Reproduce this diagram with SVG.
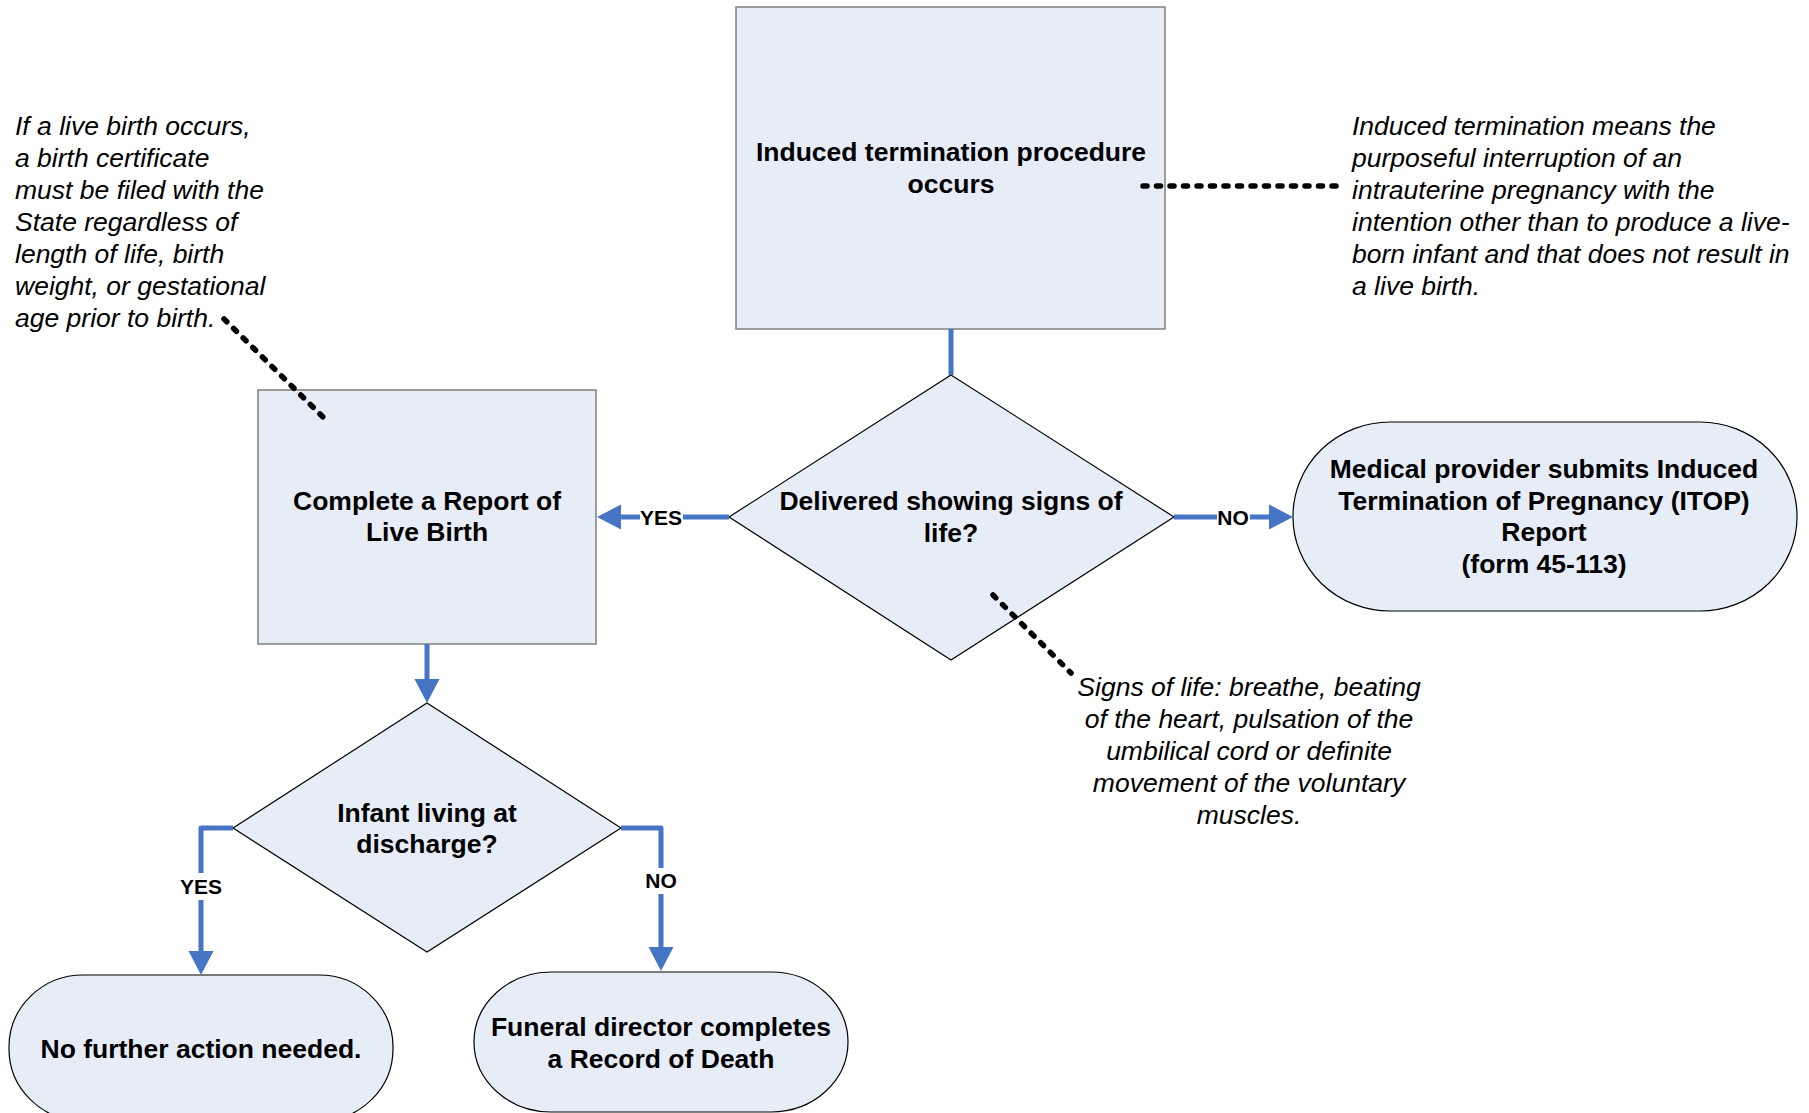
<svg xmlns="http://www.w3.org/2000/svg" width="1809" height="1113" viewBox="0 0 1809 1113">
<style>
.box{fill:#E7EDF7;stroke:#7F7F7F;stroke-width:1.5}
.shape{fill:#E7EDF7;stroke:#000;stroke-width:1.2}
.t{font-family:"Liberation Sans",Arial,sans-serif;font-weight:bold;font-size:26.5px;fill:#000;text-anchor:middle}
.note{font-family:"Liberation Sans",Arial,sans-serif;font-style:italic;font-size:26.5px;fill:#000}
.lbl{font-family:"Liberation Sans",Arial,sans-serif;font-weight:bold;font-size:21px;fill:#000;text-anchor:middle}
.conn{fill:none;stroke:#4775C5;stroke-width:5;stroke-linejoin:round}
.dot{fill:none;stroke:#000;stroke-width:5.5;stroke-linecap:round;stroke-dasharray:4 9.5}
.bg{fill:#fff}
</style>
<defs>
<marker id="ah" markerUnits="userSpaceOnUse" markerWidth="24" markerHeight="26" refX="0" refY="12.5" orient="auto" overflow="visible">
<path d="M0,0 L24,12.5 L0,25 Z" fill="#4775C5"/>
</marker>
</defs>
<rect width="1809" height="1113" fill="#fff"/>

<g id="n-induced">
<rect class="box" x="736" y="7" width="429" height="322"/>
<text class="t" x="951" y="161">Induced termination procedure</text>
<text class="t" x="951" y="193">occurs</text>
</g>

<g id="n-delivered">
<polygon class="shape" points="951,375 1174,517 951,660 729,517"/>
<text class="t" x="951" y="510">Delivered showing signs of</text>
<text class="t" x="951" y="542">life?</text>
</g>

<g id="n-report">
<rect class="box" x="258" y="390" width="338" height="254"/>
<text class="t" x="427" y="510">Complete a Report of</text>
<text class="t" x="427" y="541">Live Birth</text>
</g>

<g id="n-itop">
<rect class="shape" x="1293" y="422" width="504" height="189" rx="97" ry="94"/>
<text class="t" x="1544" y="478">Medical provider submits Induced</text>
<text class="t" x="1544" y="510">Termination of Pregnancy (ITOP)</text>
<text class="t" x="1544" y="541">Report</text>
<text class="t" x="1544" y="573">(form 45-113)</text>
</g>

<g id="n-infant">
<polygon class="shape" points="427,703 621,828 427,952 233,828"/>
<text class="t" x="427" y="822">Infant living at</text>
<text class="t" x="427" y="853">discharge?</text>
</g>

<g id="n-noaction">
<rect class="shape" x="9" y="975" width="384" height="146" rx="74" ry="72"/>
<text class="t" x="201" y="1058">No further action needed.</text>
</g>

<g id="n-funeral">
<rect class="shape" x="474" y="972" width="374" height="140" rx="77" ry="70"/>
<text class="t" x="661" y="1036">Funeral director completes</text>
<text class="t" x="661" y="1068">a Record of Death</text>
</g>

<g id="notes">
<text class="note" x="15"><tspan x="15" y="135">If a live birth occurs,</tspan><tspan x="15" y="167">a birth certificate</tspan><tspan x="15" y="199">must be filed with the</tspan><tspan x="15" y="231">State regardless of</tspan><tspan x="15" y="263">length of life, birth</tspan><tspan x="15" y="295">weight, or gestational</tspan><tspan x="15" y="327">age prior to birth.</tspan></text>
<text class="note" x="1352"><tspan x="1352" y="135">Induced termination means the</tspan><tspan x="1352" y="167">purposeful interruption of an</tspan><tspan x="1352" y="199">intrauterine pregnancy with the</tspan><tspan x="1352" y="231">intention other than to produce a live-</tspan><tspan x="1352" y="263">born infant and that does not result in</tspan><tspan x="1352" y="295">a live birth.</tspan></text>
<text class="note" text-anchor="middle"><tspan x="1249" y="696">Signs of life: breathe, beating</tspan><tspan x="1249" y="728">of the heart, pulsation of the</tspan><tspan x="1249" y="760">umbilical cord or definite</tspan><tspan x="1249" y="792">movement of the voluntary</tspan><tspan x="1249" y="824">muscles.</tspan></text>
</g>

<g id="connectors">
<path class="conn" d="M951,329 V375"/>
<path class="conn" d="M729,517 H621" marker-end="url(#ah)"/>
<path class="conn" d="M1174,517 H1269" marker-end="url(#ah)"/>
<path class="conn" d="M427,644 V679" marker-end="url(#ah)"/>
<path class="conn" d="M233,828 H201 V951" marker-end="url(#ah)"/>
<path class="conn" d="M621,828 H661 V947" marker-end="url(#ah)"/>
<path class="dot" d="M1143,186 H1340"/>
<path class="dot" d="M224,319 L327,421"/>
<path class="dot" d="M993,595 L1071,673"/>
<rect class="bg" x="640" y="506" width="43" height="23"/>
<text class="lbl" x="661" y="525">YES</text>
<rect class="bg" x="1217" y="506" width="33" height="23"/>
<text class="lbl" x="1233" y="525">NO</text>
<rect class="bg" x="180" y="873" width="42" height="27"/>
<text class="lbl" x="201" y="894">YES</text>
<rect class="bg" x="644" y="868" width="34" height="26"/>
<text class="lbl" x="661" y="888">NO</text>
</g>
</svg>
